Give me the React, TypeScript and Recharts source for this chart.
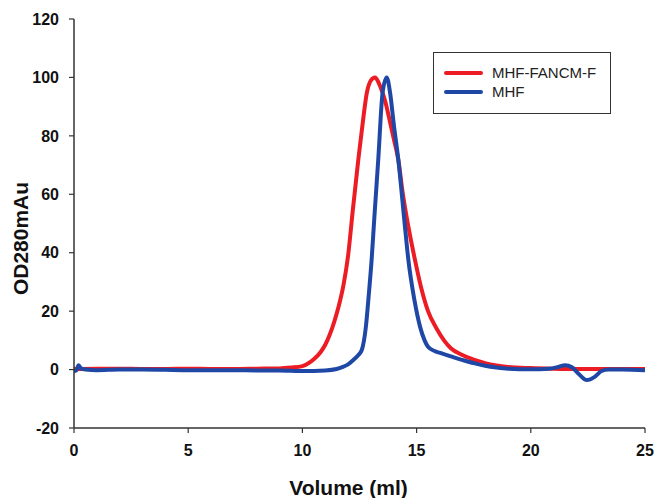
import React from "react";
import { LineChart, Line, XAxis, YAxis, Legend } from "recharts";

const redVolume = [0, 1, 2, 3, 4, 5, 6, 7, 8, 9, 9.5, 10, 10.5, 10.8, 11.0, 11.2, 11.4, 11.6, 11.8, 12.0, 12.2, 12.45, 12.65, 12.82, 13.0, 13.18, 13.35, 13.5, 13.62, 13.8, 14.0, 14.2, 14.4, 14.64, 14.93, 15.2, 15.5, 15.88, 16.2, 16.5, 17, 17.5, 18, 18.5, 19, 20, 21, 22, 23, 24, 25];
const redOD = [0.2, 0.3, 0.3, 0.2, 0.2, 0.3, 0.2, 0.2, 0.3, 0.4, 0.7, 1.2, 3.5, 6, 8.5, 12, 16.5, 22, 29, 39, 54, 72, 85, 94.7, 99, 100, 98, 95, 92, 86, 79, 71.8, 60, 48.9, 37.5, 28, 20, 14, 10, 7.3, 5, 3.4, 2.2, 1.4, 0.9, 0.5, 0.3, 0.2, 0.2, 0.2, 0.2];

const blueVolume = [0, 0.1, 0.2, 0.3, 0.5, 1, 2, 3, 4, 5, 6, 7, 8, 9, 10, 11, 11.5, 11.8, 12.0, 12.23, 12.45, 12.6, 12.78, 12.9, 13.03, 13.15, 13.32, 13.51, 13.69, 13.84, 14.0, 14.2, 14.49, 14.64, 14.9, 15.15, 15.35, 15.5, 15.8, 16.07, 16.4, 16.7, 17.0, 17.5, 18.0, 18.5, 19, 20, 20.8, 21.2, 21.5, 21.8, 22.1, 22.45, 22.8, 23.1, 23.4, 24, 25];
const blueOD = [-0.5, -0.3, 1.5, 0.5, 0, -0.2, 0, 0, -0.1, -0.2, -0.2, -0.2, -0.3, -0.3, -0.5, -0.3, 0.2, 1, 1.8, 3.3, 5, 6.7, 14.7, 25, 37.5, 52, 71.8, 94.7, 100, 94.7, 84, 71.8, 48.9, 37.5, 24, 14.7, 10, 7.8, 6.3, 5.6, 4.8, 4, 3.3, 2.2, 1.3, 0.7, 0.3, 0.1, 0.3, 0.9, 1.5, 0.8, -1.5, -3.6, -2.5, -0.5, 0, 0, -0.2];

const xTicks = [0, 5, 10, 15, 20, 25];
const yTicks = [-20, 0, 20, 40, 60, 80, 100, 120];

const seriesNames = ["MHF-FANCM-F", "MHF"];
const seriesColors = ["#ec1c24", "#1f48a6"];

const redData = redVolume.map((x, i) => ({ x, y: redOD[i] }));
const blueData = blueVolume.map((x, i) => ({ x, y: blueOD[i] }));

const FONT = "'Liberation Sans', Arial, Helvetica, sans-serif";

const tickStyle = { fontFamily: FONT, fontSize: 16, fontWeight: 700, fill: "#111" };

const LegendBox = () => (
  <div
    style={{
      width: 178,
      height: 62,
      border: "1.5px solid #333",
      background: "#fff",
      boxSizing: "border-box",
      paddingTop: 10,
      fontFamily: FONT,
      fontSize: 15,
      color: "#222",
    }}
  >
    {seriesNames.map((n, i) => (
      <div key={n} style={{ display: "flex", alignItems: "center", height: 19 }}>
        <div style={{ width: 39, height: 4, background: seriesColors[i], marginLeft: 10, marginRight: 9, borderRadius: 2 }} />
        <span>{n}</span>
      </div>
    ))}
  </div>
);

export default function App() {
  return (
    <div style={{ position: "absolute", left: 0, top: 0, background: "#fff" }}>
      <LineChart width={659} height={498} margin={{ top: 19, right: 14, bottom: 0, left: 0 }}>
        <XAxis
          dataKey="x"
          type="number"
          domain={[0, 25]}
          ticks={xTicks}
          allowDataOverflow
          height={70}
          tickSize={5}
          tickMargin={12}
          tick={tickStyle}
          axisLine={{ stroke: "#333", strokeWidth: 1.5 }}
          tickLine={{ stroke: "#333", strokeWidth: 1.2 }}
          label={{
            content: ({ viewBox }: any) => (
              <text
                x={viewBox.x + viewBox.width / 2 - 11}
                y={viewBox.y + 67}
                textAnchor="middle"
                fontFamily={FONT}
                fontSize={21}
                fontWeight={700}
                fill="#111"
              >
                Volume (ml)
              </text>
            ),
          }}
        />
        <XAxis xAxisId="top" orientation="top" type="number" domain={[0, 25]} height={0} tick={false} tickLine={false} axisLine={{ stroke: "#333", strokeWidth: 1.5 }} />
        <YAxis
          type="number"
          domain={[-20, 120]}
          ticks={yTicks}
          allowDataOverflow
          width={74}
          tickSize={5}
          tickMargin={10}
          tick={tickStyle}
          axisLine={{ stroke: "#333", strokeWidth: 1.5 }}
          tickLine={{ stroke: "#333", strokeWidth: 1.2 }}
          label={{
            content: ({ viewBox }: any) => {
              const cx = 20;
              const cy = viewBox.y + viewBox.height / 2 + 15;
              return (
                <text
                  x={cx}
                  y={cy}
                  transform={`rotate(-90 ${cx} ${cy})`}
                  textAnchor="middle"
                  dominantBaseline="central"
                  fontFamily={FONT}
                  fontSize={21}
                  fontWeight={700}
                  fill="#111"
                >
                  OD280mAu
                </text>
              );
            },
          }}
        />
        <YAxis yAxisId="right" orientation="right" type="number" domain={[-20, 120]} width={0} tick={false} tickLine={false} axisLine={{ stroke: "#333", strokeWidth: 1.5 }} />
        <Legend
          layout="vertical"
          align="center"
          verticalAlign="middle"
          content={<LegendBox />}
          wrapperStyle={{ position: "absolute", left: 433, top: 52, width: 178, height: 62, margin: 0 }}
        />
        <Line
          data={redData}
          dataKey="y"
          name={seriesNames[0]}
          type="monotone"
          stroke={seriesColors[0]}
          strokeWidth={4}
          dot={false}
          isAnimationActive={false}
        />
        <Line
          data={blueData}
          dataKey="y"
          name={seriesNames[1]}
          type="monotone"
          stroke={seriesColors[1]}
          strokeWidth={4}
          dot={false}
          isAnimationActive={false}
        />
      </LineChart>
    </div>
  );
}
